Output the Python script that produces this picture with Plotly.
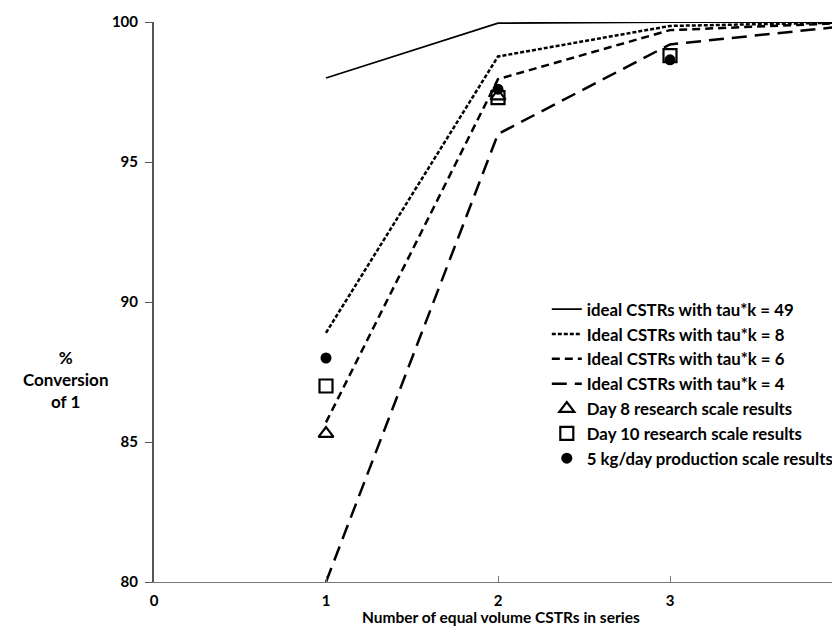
import plotly.graph_objects as go

n_cstr = [1, 2, 3, 4]
tau49 = [98.0, 99.96, 100.0, 100.0]
tau8 = [88.9, 98.77, 99.86, 99.98]
tau6 = [85.7, 97.96, 99.71, 99.96]
tau4 = [80.0, 96.0, 99.2, 99.84]

day8_x = [1, 2]
day8_y = [85.3, 97.35]
day10_x = [1, 2, 3]
day10_y = [87.0, 97.3, 98.8]
prod_x = [1, 2, 3]
prod_y = [88.0, 97.6, 98.65]

y_ticks = [80, 85, 90, 95, 100]
x_ticks = [0, 1, 2, 3, 4]

FONT = "Lato"
fig = go.Figure()

def line(y, name, dash, width=2.5):
    fig.add_trace(go.Scatter(x=n_cstr, y=y, mode="lines", name=name,
                             line=dict(color="black", width=width, dash=dash)))

line(tau49, "ideal CSTRs with tau*k = 49", "solid", 1.8)
line(tau8, "Ideal CSTRs with tau*k = 8", "4px,2px")
line(tau6, "Ideal CSTRs with tau*k = 6", "8px,5px")
line(tau4, "Ideal CSTRs with tau*k = 4", "15px,8px")

fig.add_trace(go.Scatter(x=day8_x, y=day8_y, mode="markers", name="Day 8 research scale results",
                         marker=dict(symbol="triangle-up-open", size=13, color="black",
                                     line=dict(width=2.2, color="black"))))
fig.add_trace(go.Scatter(x=day10_x, y=day10_y, mode="markers", name="Day 10 research scale results",
                         marker=dict(symbol="square-open", size=13, color="black",
                                     line=dict(width=2.2, color="black"))))
fig.add_trace(go.Scatter(x=prod_x, y=prod_y, mode="markers", name="5 kg/day production scale results",
                         marker=dict(symbol="circle", size=11, color="black")))

# page body has an 8px margin; plot area starts at screen (154, 22)
L, T, B = 146, 14, 58
plot_w = 840 - L
px_per_unit = 172.0
xmax = plot_w / px_per_unit

fig.update_layout(
    width=840, height=632,
    margin=dict(l=L, r=0, t=T, b=B, autoexpand=False),
    plot_bgcolor="white", paper_bgcolor="white",
    font=dict(family=FONT, size=15, color="black", weight="bold"),
    showlegend=True,
    legend=dict(x=0.566, y=0.354, xanchor="left", yanchor="middle",
                font=dict(family=FONT, size=16.8, color="black", weight="bold"),
                bgcolor="rgba(0,0,0,0)", tracegroupgap=0, itemwidth=30),
    xaxis=dict(range=[0, xmax], tickvals=x_ticks, ticktext=[str(v) for v in x_ticks],
               showgrid=False, zeroline=False, showline=True, linecolor="#777", linewidth=1.2,
               ticks="inside", ticklen=6, tickcolor="#777", ticklabelstandoff=5,
               tickfont=dict(family=FONT, size=15, weight="bold")),
    yaxis=dict(range=[80, 100], tickvals=y_ticks, showgrid=False, zeroline=False,
               showline=True, linecolor="#555", linewidth=2,
               ticks="outside", ticklen=7, tickcolor="#555", ticklabelstandoff=4,
               tickfont=dict(family=FONT, size=15, weight="bold")),
)

fig.add_annotation(x=0.5, y=0, xref="paper", yref="paper", yshift=-(609 - 574), yanchor="middle",
                   text="Number of equal volume CSTRs in series", showarrow=False,
                   font=dict(family=FONT, size=15.5, weight="bold"))
fig.add_annotation(x=(57 - L) / plot_w, y=0.3625, xref="paper", yref="paper", xanchor="center",
                   text="%<br>Conversion<br>of 1", showarrow=False,
                   font=dict(family=FONT, size=17, weight="bold"))

fig.write_html("out.html")
